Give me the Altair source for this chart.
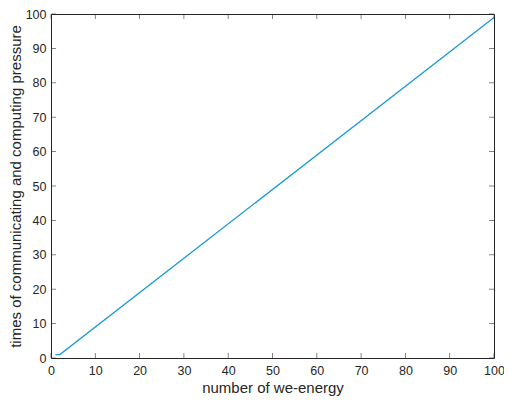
import altair as alt
import pandas as pd

# data
x_vals = [1, 2, 100]
y_vals = [1, 1, 99]
x_ticks = [0, 10, 20, 30, 40, 50, 60, 70, 80, 90, 100]
y_ticks = [0, 10, 20, 30, 40, 50, 60, 70, 80, 90, 100]

W, H = 443, 344
AX = "#262626"
FONT = "Liberation Sans"
XT = "number of we-energy"
YT = "times of communicating and computing pressure"

df = pd.DataFrame({"x": x_vals, "y": y_vals})
xt = pd.DataFrame({"t": x_ticks})
yt = pd.DataFrame({"t": y_ticks})

xs = alt.Scale(domain=[0, 100], nice=False)
ys = alt.Scale(domain=[0, 100], nice=False)

x_axis = alt.Axis(values=x_ticks, ticks=False, domain=False, grid=False,
                  labelOverlap=False, labelFlush=False,
                  labelPadding=6, titlePadding=4)
y_axis = alt.Axis(values=y_ticks, ticks=False, domain=False, grid=False,
                  labelOverlap=False, labelFlush=False,
                  labelPadding=5, titlePadding=2)

line = alt.Chart(df).mark_line(color="#1a9ad6", strokeWidth=1.3).encode(
    x=alt.X("x:Q", scale=xs, title=XT, axis=x_axis),
    y=alt.Y("y:Q", scale=ys, title=YT, axis=y_axis),
)

tick_len = 5
bx = alt.Chart(xt).mark_tick(color=AX, size=tick_len, thickness=0.8).encode(
    x=alt.X("t:Q", scale=xs, title=XT, axis=x_axis), y=alt.value(H - tick_len / 2))
tx = alt.Chart(xt).mark_tick(color=AX, size=tick_len, thickness=0.8).encode(
    x=alt.X("t:Q", scale=xs, title=XT, axis=x_axis), y=alt.value(tick_len / 2))
ly = alt.Chart(yt).mark_tick(color=AX, size=tick_len, thickness=0.8).encode(
    y=alt.Y("t:Q", scale=ys, title=YT, axis=y_axis), x=alt.value(tick_len / 2))
ry = alt.Chart(yt).mark_tick(color=AX, size=tick_len, thickness=0.8).encode(
    y=alt.Y("t:Q", scale=ys, title=YT, axis=y_axis), x=alt.value(W - tick_len / 2))

chart = alt.layer(line, bx, tx, ly, ry).properties(
    width=W, height=H,
    autosize=alt.AutoSizeParams(type="none"),
    padding={"left": 43, "top": 6, "right": 10, "bottom": 38},
).configure_view(stroke=AX, strokeWidth=1).configure_axis(
    labelFont=FONT, titleFont=FONT, labelFontSize=12.5, titleFontSize=15,
    labelColor=AX, titleColor=AX, titleFontWeight="normal",
)

chart.save("out.html", embed_options={"renderer": "svg", "actions": False})
